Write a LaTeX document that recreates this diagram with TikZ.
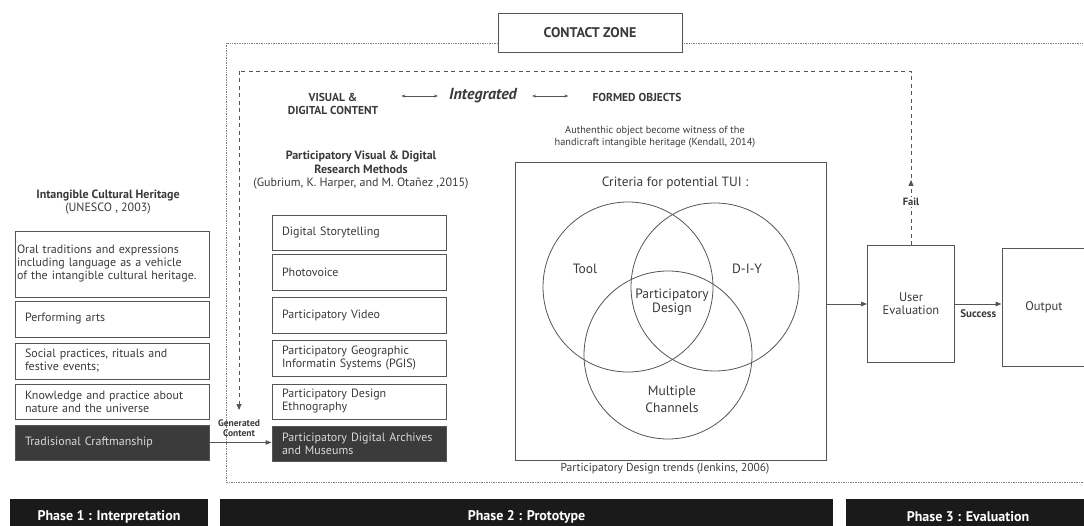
\documentclass[tikz,border=0pt]{standalone}
\usepackage{fontspec}
\setmainfont{PT Sans}
\usetikzlibrary{positioning,arrows.meta}
\definecolor{linegray}{HTML}{555555}
\definecolor{textgray}{HTML}{3A3A3A}
\definecolor{darkbox}{HTML}{3B3B3B}
\definecolor{phasebar}{HTML}{1A1A1A}
\tikzstyle{arrow} = [line width=0.9pt,color=linegray,-{Triangle[length=6pt,width=4.5pt]}]
\tikzstyle{twoway} = [line width=0.6pt,color=linegray,{Stealth[length=4pt,width=3pt]}-{Stealth[length=4pt,width=3pt]}]
\tikzstyle{loopline} = [line width=0.9pt,color=linegray,dash pattern=on 4pt off 3.5pt]
\tikzstyle{zoneline} = [line width=0.7pt,color=gray,dash pattern=on 0.7pt off 1pt]
\tikzstyle{item} = [draw=linegray,line width=0.9pt,text=textgray,align=left,inner xsep=10pt,font=\fontsize{12}{13}\selectfont]
\tikzstyle{darkitem} = [item,fill=darkbox,text=white!85!black]
\tikzstyle{phase} = [fill=phasebar,text=white,minimum height=36pt,font=\bfseries\fontsize{14}{16}\selectfont]
\tikzstyle{note} = [text=textgray,align=center,inner sep=0pt]
\tikzstyle{plainbox} = [draw=linegray,line width=0.9pt,text=textgray,align=center]

\begin{document}
\begin{tikzpicture}[x=1pt,y=-1pt]
\useasboundingbox (0,0) rectangle (1084,526);
\clip (0,0) rectangle (1084,526);

\draw[zoneline] (226,43) rectangle (1095,482);
\node[plainbox,fill=white,minimum width=184pt,minimum height=39pt,font=\bfseries\fontsize{14}{16}\selectfont] (zone) at (590,33) {CONTACT ZONE};

\node[note,font=\bfseries\fontsize{11.5}{13}\selectfont] (visual) at (333,103.5) {VISUAL \&\\DIGITAL CONTENT};
\node[note,font=\bfseries\itshape\fontsize{16}{18}\selectfont] (integ) at (483,96) {Integrated};
\node[note,font=\bfseries\fontsize{11.5}{13}\selectfont] (formed) at (637,97) {FORMED OBJECTS};
\draw[twoway,shorten <=23pt,shorten >=11pt] (integ.west -| visual.east) -- (integ.west);
\draw[twoway,shorten <=15pt,shorten >=24pt] (integ.east) -- (integ.east -| formed.west);

\node[note,font=\fontsize{12}{13}\selectfont] (ichtitle) at (108,202) {\textbf{Intangible Cultural Heritage}\\(UNESCO , 2003)};
\node[item,inner xsep=2pt,text width=190pt,minimum height=66pt] (oral) at (112,264) {Oral traditions and expressions\\including language  as a vehicle\\of the intangible cultural heritage.};
\node[item,text width=174pt,minimum height=36pt] (arts) at (112,319) {Performing arts};
\node[item,text width=174pt,minimum height=36pt] (social) at (112,361) {Social practices, rituals and\\festive events;};
\node[item,text width=174pt,minimum height=35pt] (nature) at (112,401.5) {Knowledge and practice about\\nature and the universe};
\node[darkitem,text width=174pt,minimum height=35pt] (craft) at (112,442.5) {Tradisional Craftmanship};

\node[note,font=\fontsize{12}{13.5}\selectfont] (pvtitle) at (361,170.5) {\textbf{Participatory Visual \& Digital}\\\textbf{Research Methods}\\(Gubrium, K. Harper, and M. Otañez ,2015)};
\node[item,text width=154pt,minimum height=35pt] (story) at (359,232.5) {Digital Storytelling};
\node[item,text width=154pt,minimum height=36pt] (photo) at (359,272) {Photovoice};
\node[item,text width=154pt,minimum height=36pt] (video) at (359,315) {Participatory  Video};
\node[item,text width=154pt,minimum height=36pt] (pgis) at (359,358) {Participatory Geographic\\Informatin Systems (PGIS)};
\node[item,text width=154pt,minimum height=35pt] (ethno) at (359,401.5) {Participatory Design\\Ethnography};
\node[darkitem,text width=154pt,minimum height=35pt] (archives) at (359,443.5) {Participatory Digital Archives\\and Museums};

\node[note,font=\bfseries\fontsize{9.5}{10}\selectfont] (gen) at (239,428) {Generated\\Content};
\draw[arrow] (craft.east) -- (craft.east -| archives.west);

\node[note,font=\fontsize{10.3}{12.5}\selectfont] (kendall) at (655,137) {Authenthic object become witness of the\\handicraft intangible heritage (Kendall, 2014)};
\node[plainbox,minimum width=311pt,minimum height=298pt] (venn) at (670.5,311) {};
\node[note,font=\fontsize{13.4}{15}\selectfont] (criteria) at (675,183) {Criteria for potential TUI :};
\draw[linegray,line width=0.8pt] (628,287) circle (85pt);
\draw[linegray,line width=0.8pt] (715,287) circle (84pt);
\draw[linegray,line width=0.8pt] (668,355) circle (84pt);
\node[note,font=\fontsize{13.5}{15}\selectfont] (tool) at (585,269) {Tool};
\node[note,font=\fontsize{13.5}{15}\selectfont] (diy) at (747,269) {D-I-Y};
\node[note,font=\fontsize{13.5}{13.5}\selectfont] (pd) at (672,302) {Participatory\\Design};
\node[note,font=\fontsize{13.5}{17}\selectfont] (multi) at (672,399) {Multiple\\Channels};
\node[note,font=\fontsize{11.5}{13}\selectfont] (jenkins) at (665,469) {Participatory Design trends (Jenkins, 2006)};

\node[plainbox,minimum width=87pt,minimum height=117pt,font=\fontsize{12.5}{13}\selectfont] (ue) at (911,304) {User\\Evaluation};
\node[plainbox,minimum width=84pt,minimum height=118pt,font=\fontsize{12.5}{13}\selectfont] (out) at (1044,307) {Output};
\draw[arrow] (venn.east |- ue.west) -- (ue.west);
\draw[arrow] (ue.east) -- (ue.east -| out.west) node[midway,below=5pt,note,font=\bfseries\fontsize{11}{12}\selectfont] (success) {Success};

\coordinate (looptr) at (911,71);
\coordinate (looptl) at (239,71);
\coordinate (loopend) at (239,410);
\coordinate (failtip) at (911,180);
\draw[loopline] (ue.north) -- (looptr) -- (looptl);
\draw[loopline,-{Triangle[length=6pt,width=5pt]}] (looptl) -- (loopend);
\draw[loopline,-{Triangle[length=6pt,width=5pt]}] (ue.north) -- (failtip);
\node[note,fill=white,inner sep=1pt,font=\bfseries\fontsize{10.5}{12}\selectfont] (fail) at (911,202) {Fail};

\node[phase,minimum width=198pt] (phase1) at (109,517) {Phase 1 : Interpretation};
\node[phase,minimum width=613pt] (phase2) at (526.5,517) {Phase 2 : Prototype};
\node[phase,minimum width=244pt] (phase3) at (968,517) {Phase 3 : Evaluation};
\end{tikzpicture}
\end{document}
